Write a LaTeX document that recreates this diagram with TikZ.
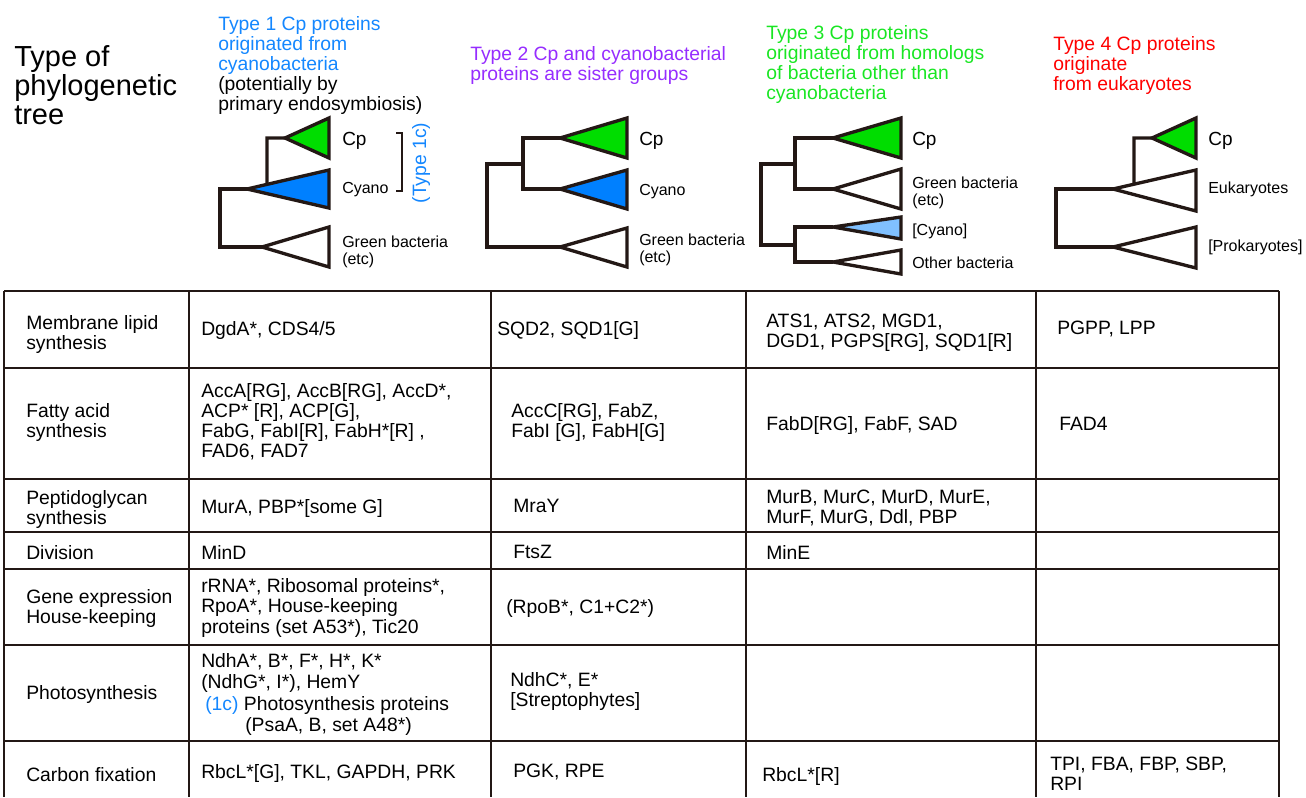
\documentclass[tikz,border=0pt]{standalone}
\usepackage{fontspec}
\setmainfont{Liberation Sans}
\usetikzlibrary{calc}

\definecolor{inkline}{RGB}{35,24,21}
\definecolor{typeone}{RGB}{20,135,255}
\definecolor{typetwo}{RGB}{150,45,255}
\definecolor{typethree}{RGB}{25,230,35}
\definecolor{typefour}{RGB}{255,0,0}
\definecolor{cpgreen}{RGB}{0,221,0}
\definecolor{cyanoblue}{RGB}{0,128,255}
\definecolor{paleblue}{RGB}{128,192,255}

\begin{document}
\begin{tikzpicture}[x=0.75pt,y=0.75pt,yscale=-1,xscale=1,
  branch/.style={draw=inkline,line width=2.5pt,line join=miter},
  grid/.style={draw=inkline,line width=1.1pt},
  cell/.style={anchor=north west,inner sep=0pt,align=left,font=\fontsize{14.5}{15}\selectfont},
  head/.style={anchor=north west,inner sep=0pt,align=left,font=\fontsize{14.5}{15}\selectfont},
  taxon/.style={anchor=base west,inner sep=0pt,align=left,font=\fontsize{12}{12.75}\selectfont},
  cplabel/.style={anchor=base west,inner sep=0pt,font=\fontsize{14.25}{15}\selectfont}]
\useasboundingbox (0,0) rectangle (1306,797);

% Title
\node [anchor=north west,inner sep=0pt,align=left,font=\fontsize{21.75}{21.75}\selectfont] (title) at (14,45) {Type of\\phylogenetic\\tree};

% Headers of the four types
\node [head,text=typeone] (headone) at (218,16) {Type 1 Cp proteins\\originated from\\cyanobacteria\\\textcolor{black}{(potentially by}\\\textcolor{black}{primary endosymbiosis)}};
\node [head,text=typetwo] (headtwo) at (470,46) {Type 2 Cp and cyanobacterial\\proteins are sister groups};
\node [head,text=typethree] (headthree) at (766,25) {Type 3 Cp proteins\\originated from homologs\\of bacteria other than\\cyanobacteria};
\node [head,text=typefour] (headfour) at (1053,36) {Type 4 Cp proteins\\originate\\from eukaryotes};

%Tree 1
\coordinate (onecp) at (285,138);
\coordinate (onecy) at (247,189);
\coordinate (onegr) at (262,247);
\draw [branch,fill=cpgreen] (onecp) -- (329,118) -- (329,158) -- cycle;
\draw [branch,fill=cyanoblue] (onecy) -- (329,170) -- (329,208) -- cycle;
\draw [branch,fill=white] (onegr) -- (329,227) -- (329,267) -- cycle;
\draw [branch] (onecp) -- (267,138) -- ($(onecy)!0.244!(329,170)$);
\draw [branch] (onecy) -- (220,189) -- (220,247) -- (onegr);
\node [cplabel] (onecptext) at (342,145) {Cp};
\node [taxon] (onecytext) at (342,193) {Cyano};
\node [taxon,anchor=north west] (onegrtext) at (342,236) {Green bacteria\\(etc)};
\draw [draw=inkline,line width=1.1pt] (396,133) -- (402,133) -- (402,191) -- (396,191);
\node [inner sep=0pt,rotate=90,text=typeone,font=\fontsize{14.5}{15}\selectfont] (oneclabel) at (421,163) {(Type 1c)};

%Tree 2
\coordinate (twocp) at (560,138);
\coordinate (twocy) at (560,189);
\coordinate (twogr) at (560,247);
\draw [branch,fill=cpgreen] (twocp) -- (627,118) -- (627,158) -- cycle;
\draw [branch,fill=cyanoblue] (twocy) -- (627,170) -- (627,209) -- cycle;
\draw [branch,fill=white] (twogr) -- (627,228) -- (627,267) -- cycle;
\draw [branch] (twocp) -- (523,138) -- (523,189) -- (twocy);
\draw [branch] (523,164) -- (487,164) -- (487,247) -- (twogr);
\node [cplabel] (twocptext) at (639,145) {Cp};
\node [taxon] (twocytext) at (639,195) {Cyano};
\node [taxon,anchor=north west] (twogrtext) at (639,234) {Green bacteria\\(etc)};

%Tree 3
\coordinate (threecp) at (833,138);
\coordinate (threegr) at (833,189);
\coordinate (threecy) at (833,227);
\coordinate (threeot) at (833,262);
\draw [branch,fill=cpgreen] (threecp) -- (901,118) -- (901,158) -- cycle;
\draw [branch,fill=white] (threegr) -- (901,169) -- (901,209) -- cycle;
\draw [branch,fill=paleblue] (threecy) -- (901,217) -- (901,239) -- cycle;
\draw [branch,fill=white] (threeot) -- (901,250) -- (901,274) -- cycle;
\draw [branch] (threecp) -- (795,138) -- (795,189) -- (threegr);
\draw [branch] (threecy) -- (795,227) -- (795,262) -- (threeot);
\draw [branch] (795,164) -- (761,164) -- (761,245) -- (795,245);
\node [cplabel] (threecptext) at (912,145) {Cp};
\node [taxon,anchor=north west] (threegrtext) at (912,177) {Green bacteria\\(etc)};
\node [taxon] (threecytext) at (912,235) {[Cyano]};
\node [taxon] (threeottext) at (912,268) {Other bacteria};

%Tree 4
\coordinate (fourcp) at (1152,138);
\coordinate (foureu) at (1113,189);
\coordinate (fourpr) at (1113,247);
\draw [branch,fill=cpgreen] (fourcp) -- (1196,118) -- (1196,158) -- cycle;
\draw [branch,fill=white] (foureu) -- (1196,170) -- (1196,211) -- cycle;
\draw [branch,fill=white] (fourpr) -- (1196,227) -- (1196,268) -- cycle;
\draw [branch] (fourcp) -- (1134,138) -- ($(foureu)!0.253!(1196,170)$);
\draw [branch] (foureu) -- (1056,189) -- (1056,247) -- (fourpr);
\node [cplabel] (fourcptext) at (1208,145) {Cp};
\node [taxon] (foureutext) at (1208,193) {Eukaryotes};
\node [taxon] (fourprtext) at (1208,251) {[Prokaryotes]};

% Table grid
\draw [grid] (4,291) -- (1279,291);
\draw [grid] (4,368) -- (1279,368);
\draw [grid] (4,479) -- (1279,479);
\draw [grid] (4,532) -- (1279,532);
\draw [grid] (4,569) -- (1279,569);
\draw [grid] (4,645) -- (1279,645);
\draw [grid] (4,741) -- (1279,741);
\draw [grid] (4,291) -- (4,797);
\draw [grid] (189,291) -- (189,797);
\draw [grid] (491,291) -- (491,797);
\draw [grid] (746,291) -- (746,797);
\draw [grid] (1036,291) -- (1036,797);
\draw [grid] (1279,291) -- (1279,797);

% Row labels
\node [cell] (rowlipid) at (26,315) {Membrane lipid\\synthesis};
\node [cell] (rowfatty) at (26,403) {Fatty acid\\synthesis};
\node [cell] (rowpepti) at (26,490) {Peptidoglycan\\synthesis};
\node [cell] (rowdiv) at (26,545) {Division};
\node [cell] (rowgene) at (26,589) {Gene expression\\House-keeping};
\node [cell] (rowphoto) at (26,685) {Photosynthesis};
\node [cell] (rowcarbon) at (26,767) {Carbon fixation};

% Type 1 column
\node [cell] (onelipid) at (201,321) {DgdA*, CDS4/5};
\node [cell] (onefatty) at (201,383) {AccA[RG], AccB[RG], AccD*,\\ACP* [R], ACP[G],\\FabG, FabI[R], FabH*[R] ,\\FAD6, FAD7};
\node [cell] (onepepti) at (201,499) {MurA, PBP*[some G]};
\node [cell] (onediv) at (201,545) {MinD};
\node [cell,font=\fontsize{14.5}{15.4}\selectfont] (onegene) at (201,578) {rRNA*, Ribosomal proteins*,\\RpoA*, House-keeping\\proteins (set A53*), Tic20};
\node [cell,font=\fontsize{14.5}{16.1}\selectfont] (onephoto) at (201,653) {NdhA*, B*, F*, H*, K*\\(NdhG*, I*), HemY\\\hspace*{3pt}\textcolor{typeone}{(1c)} Photosynthesis proteins\\\hspace*{33pt}(PsaA, B, set A48*)};
\node [cell] (onecarbon) at (201,764) {RbcL*[G], TKL, GAPDH, PRK};

% Type 2 column
\node [cell] (twolipid) at (497,321) {SQD2, SQD1[G]};
\node [cell] (twofatty) at (511,403) {AccC[RG], FabZ,\\FabI [G], FabH[G]};
\node [cell] (twopepti) at (513,499) {MraY};
\node [cell] (twodiv) at (513,545) {FtsZ};
\node [cell] (twogene) at (506,599) {(RpoB*, C1+C2*)};
\node [cell] (twophoto) at (510,672) {NdhC*, E*\\{[}Streptophytes{]}};
\node [cell] (twocarbon) at (513,764) {PGK, RPE};

% Type 3 column
\node [cell] (threelipid) at (766,314) {ATS1, ATS2, MGD1,\\DGD1, PGPS[RG], SQD1[R]};
\node [cell] (threefatty) at (766,416) {FabD[RG], FabF, SAD};
\node [cell] (threepepti) at (766,490) {MurB, MurC, MurD, MurE,\\MurF, MurG, Ddl, PBP};
\node [cell] (threediv) at (766,545) {MinE};
\node [cell] (threecarbon) at (762,767) {RbcL*[R]};

% Type 4 column
\node [cell] (fourlipid) at (1057,321) {PGPP, LPP};
\node [cell] (fourfatty) at (1059,417) {FAD4};
\node [cell] (fourcarbon) at (1050,757) {TPI, FBA, FBP, SBP,\\RPI};

\end{tikzpicture}
\end{document}
